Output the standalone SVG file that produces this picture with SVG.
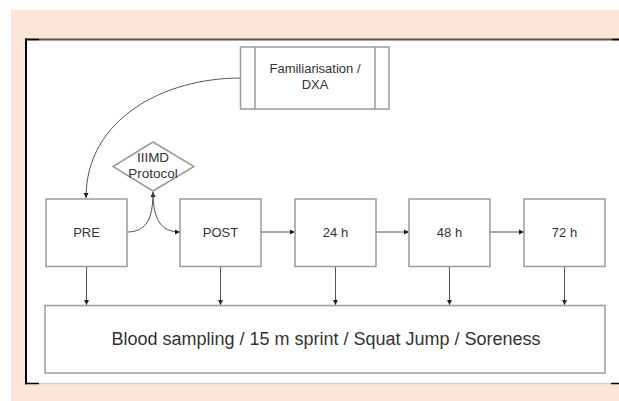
<svg xmlns="http://www.w3.org/2000/svg" width="619" height="401" viewBox="0 0 619 401">
<style>
.box{fill:#fff;stroke:#9a9a9a;stroke-width:1.5}
.lbl{font-family:"Liberation Sans",Arial,sans-serif;font-size:13px;fill:#333;text-anchor:middle;dominant-baseline:central}
.con{fill:none;stroke:#555;stroke-width:1}
</style>
<defs>
<marker id="ah" markerWidth="6" markerHeight="6" refX="5" refY="3" orient="auto" markerUnits="userSpaceOnUse">
<path d="M0,0.5 L5,3 L0,5.5 Z" fill="#222"/>
</marker>
</defs>
<rect x="0" y="0" width="619" height="401" fill="#fff"/>
<rect x="11" y="10" width="608" height="391" fill="#fbe6d7"/>
<rect x="26" y="39" width="593" height="345" fill="#fff"/>
<g id="frame">
<line x1="39" y1="39.5" x2="612" y2="39.5" stroke="#555" stroke-width="2"/>
<line x1="39" y1="383.5" x2="611" y2="383.5" stroke="#cfcfcf" stroke-width="1.5"/>
<line x1="25" y1="39.5" x2="39" y2="39.5" stroke="#000" stroke-width="2"/>
<line x1="612" y1="39.5" x2="619" y2="39.5" stroke="#000" stroke-width="2"/>
<line x1="25" y1="383.5" x2="39" y2="383.5" stroke="#000" stroke-width="1.5"/>
<line x1="611" y1="383.5" x2="619" y2="383.5" stroke="#000" stroke-width="1.5"/>
<line x1="26" y1="38.5" x2="26" y2="384.3" stroke="#000" stroke-width="2"/>
</g>
<g id="connectors">
<path class="con" d="M240.5,78 C165,78 86,118 86,198" marker-end="url(#ah)"/>
<path class="con" d="M127,232 C147,232 153,218 153,192" marker-end="url(#ah)"/>
<path class="con" d="M153,192 C153,218 160,232 180,232" marker-end="url(#ah)"/>
<path class="con" d="M261,232 L295,232" marker-end="url(#ah)"/>
<path class="con" d="M376,232 L409,232" marker-end="url(#ah)"/>
<path class="con" d="M490,232 L524,232" marker-end="url(#ah)"/>
<path class="con" d="M86.5,267 L86.5,305" marker-end="url(#ah)"/>
<path class="con" d="M220.5,267 L220.5,305" marker-end="url(#ah)"/>
<path class="con" d="M335.5,267 L335.5,305" marker-end="url(#ah)"/>
<path class="con" d="M449.5,267 L449.5,305" marker-end="url(#ah)"/>
<path class="con" d="M564.5,267 L564.5,305" marker-end="url(#ah)"/>
</g>
<g id="familiarisation">
<rect class="box" x="240.5" y="47" width="148.5" height="62"/>
<line x1="255" y1="47" x2="255" y2="109" stroke="#9a9a9a" stroke-width="1.5"/>
<line x1="375" y1="47" x2="375" y2="109" stroke="#9a9a9a" stroke-width="1.5"/>
<text class="lbl" x="315" y="68">Familiarisation /</text>
<text class="lbl" x="315" y="84">DXA</text>
</g>
<g id="protocol">
<path d="M153,142 L194,166.5 L153,191 L113,166.5 Z" fill="#fff" stroke="#9a9a9a" stroke-width="1.5"/>
<text class="lbl" x="153" y="157" style="font-size:13.5px">IIIMD</text>
<text class="lbl" x="153" y="173" style="font-size:13.5px">Protocol</text>
</g>
<g id="pre">
<rect class="box" x="46" y="199" width="81" height="67.5"/>
<text class="lbl" x="86.5" y="232">PRE</text>
</g>
<g id="post">
<rect class="box" x="180" y="199" width="81" height="67.5"/>
<text class="lbl" x="220.5" y="232">POST</text>
</g>
<g id="h24">
<rect class="box" x="295" y="199" width="81" height="67.5"/>
<text class="lbl" x="335.5" y="232">24 h</text>
</g>
<g id="h48">
<rect class="box" x="409" y="199" width="81" height="67.5"/>
<text class="lbl" x="449.5" y="232">48 h</text>
</g>
<g id="h72">
<rect class="box" x="524" y="199" width="81" height="67.5"/>
<text class="lbl" x="564.5" y="232">72 h</text>
</g>
<g id="measures">
<rect class="box" x="45" y="305.5" width="560" height="67.5"/>
<text class="lbl" x="326" y="339" style="font-size:18px">Blood sampling / 15 m sprint / Squat Jump / Soreness</text>
</g>
</svg>
